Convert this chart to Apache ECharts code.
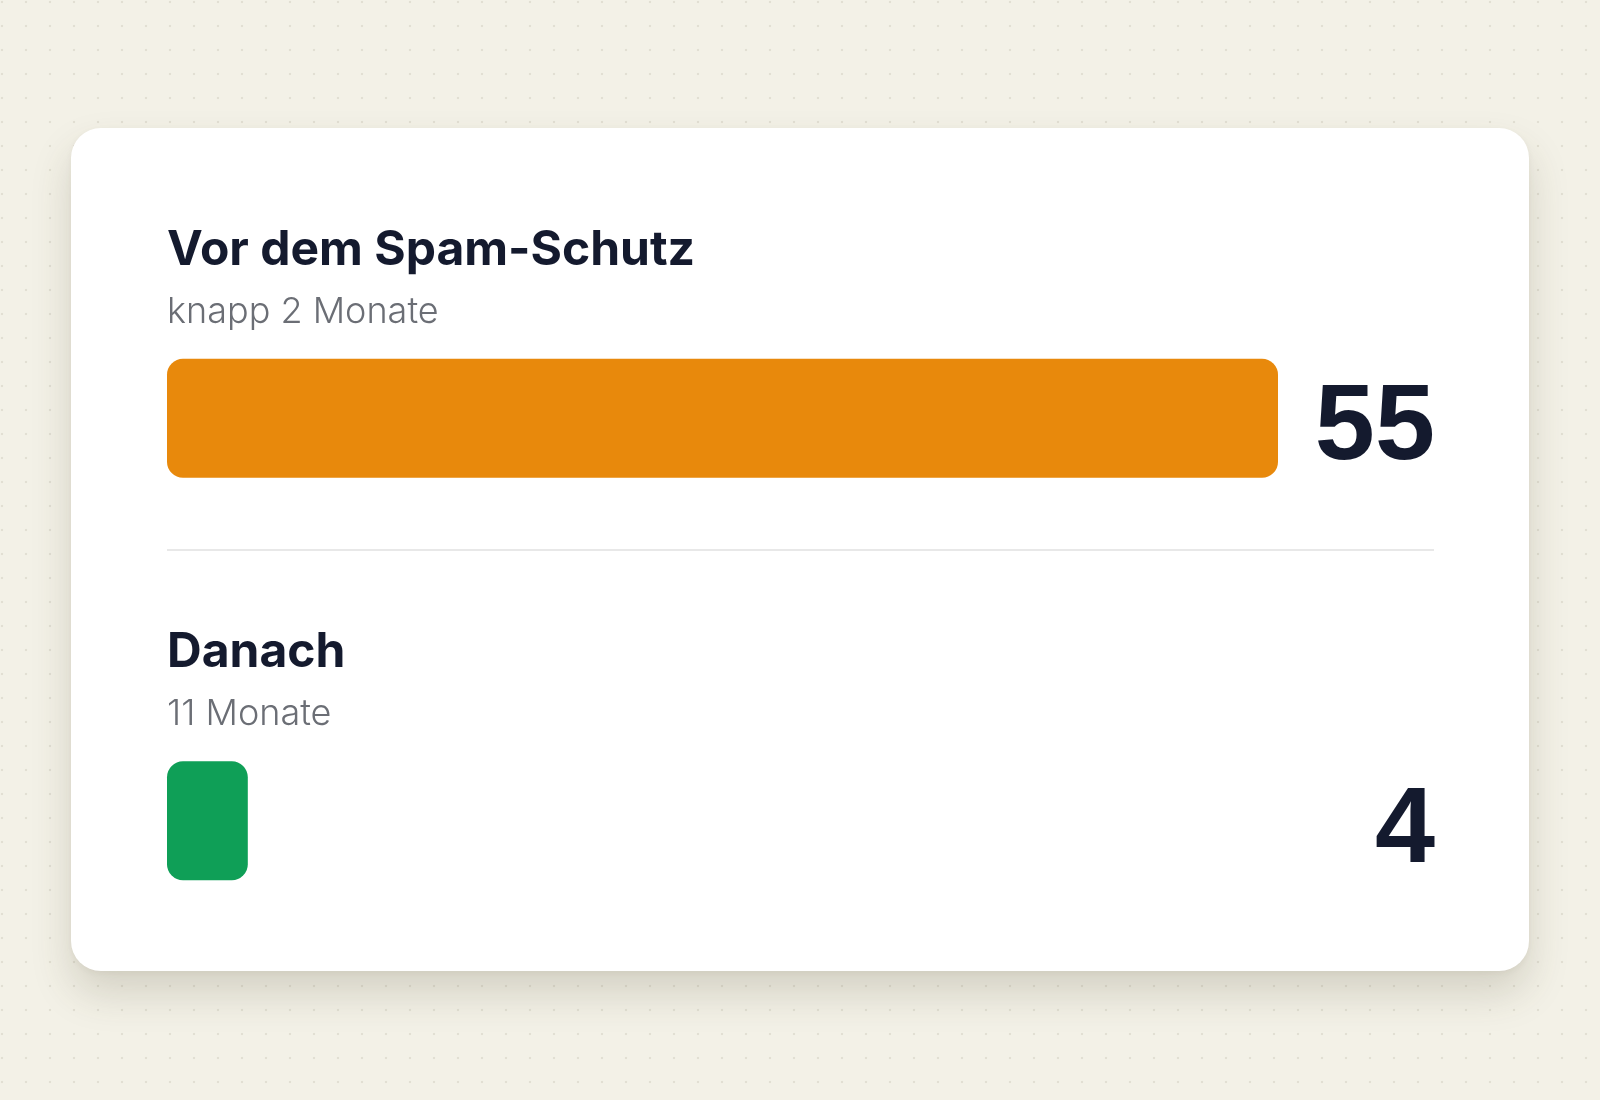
<!DOCTYPE html>
<html>
<head>
<meta charset="utf-8">
<script src="https://cdn.jsdelivr.net/npm/echarts@6/dist/echarts.min.js"></script>
<style>
  html, body { margin:0; padding:0; }
  body {
    width:1600px; height:1100px; overflow:hidden; position:relative;
    background-color:#f3f1e7;
    background-image: radial-gradient(circle, #e2dfd3 1.1px, transparent 1.6px);
    background-size: 24px 24px;
    background-position: -10px -10px;
  }
  #card {
    position:absolute; left:71px; top:128px; width:1458px; height:843px;
    background:#ffffff; border-radius:30px;
    box-shadow: 0 22px 40px rgba(70,65,40,0.18), 0 2px 6px rgba(70,65,40,0.05);
  }
  #chart { position:absolute; left:0; top:0; width:1600px; height:1100px; }
</style>
</head>
<body>
<div id="card"></div>
<div id="chart"></div>
<script>
// ---- data ----
const categories = ['Vor dem Spam-Schutz', 'Danach'];
const periods = ['knapp 2 Monate', '11 Monate'];
const values = [55, 4];
const barColors = ['#E8890C', '#0F9F57'];

const chart = echarts.init(document.getElementById('chart'), null, { renderer: 'canvas' });

const titleTops = [226, 628];
const titles = categories.map((c, i) => ({
  text: c,
  subtext: periods[i],
  left: 167,
  top: titleTops[i],
  itemGap: 16,
  padding: 0,
  textStyle: { fontFamily: 'Inter', fontWeight: 700, fontSize: 48, lineHeight: 50, color: '#141a2e' },
  subtextStyle: { fontFamily: 'Inter', fontWeight: 300, fontSize: 36, lineHeight: 40, color: '#6b6e75' }
}));

chart.setOption({
  backgroundColor: 'transparent',
  animation: false,
  title: titles,
  grid: { left: 167, right: 322, top: 217, bottom: 78, containLabel: false },
  xAxis: { type: 'value', min: 0, max: 55, show: false },
  yAxis: [
    { type: 'category', inverse: true, data: categories, show: false },
    {
      type: 'category', inverse: true, position: 'right', data: values.map(String),
      axisLine: { show: false }, axisTick: { show: false },
      axisLabel: {
        align: 'right', margin: 157, verticalAlign: 'top', lineHeight: 22,
        fontFamily: 'Liberation Sans', fontWeight: 'bold', fontSize: 108, color: '#141a2e'
      }
    }
  ],
  series: [{
    type: 'bar',
    yAxisIndex: 0,
    barWidth: 119,
    data: values.map((v, i) => ({ value: v, itemStyle: { color: barColors[i], borderRadius: 16 } })),
    silent: true
  }],
  graphic: [{
    type: 'line',
    shape: { x1: 167, y1: 550, x2: 1434, y2: 550 },
    style: { stroke: '#e8e8e8', lineWidth: 2 },
    silent: true
  }]
});
</script>
</body>
</html>
